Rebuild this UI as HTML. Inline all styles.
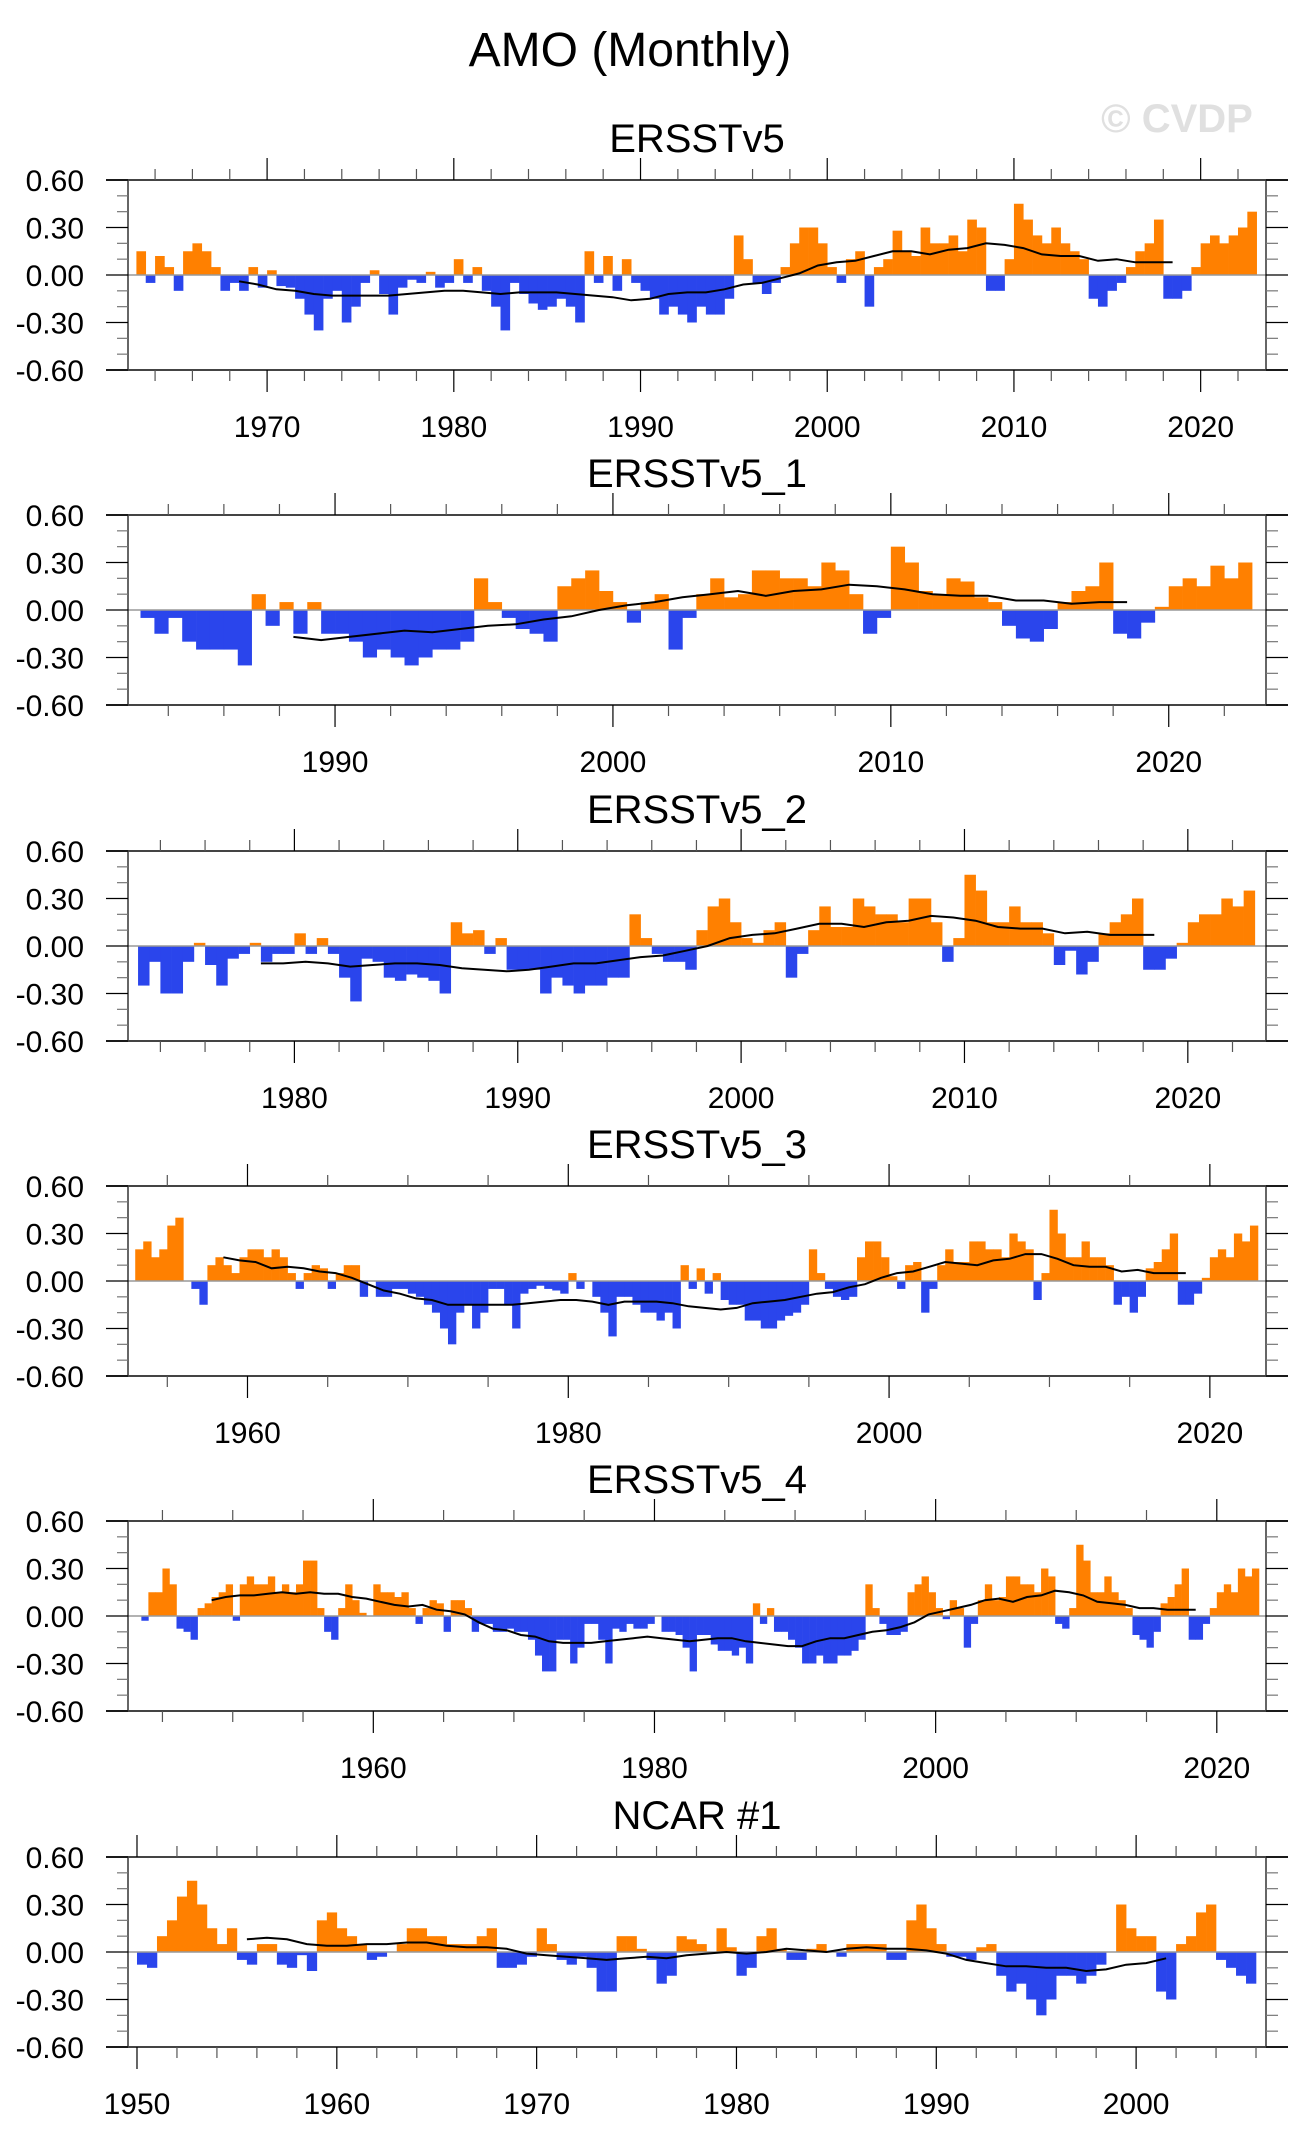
<!DOCTYPE html>
<html><head><meta charset="utf-8">
<style>
html,body{margin:0;padding:0;background:#fff;}
svg{display:block;font-family:"Liberation Sans",Arial,sans-serif;}
</style></head>
<body>
<svg id="fig" width="1305" height="2144" viewBox="0 0 1305 2144" xmlns="http://www.w3.org/2000/svg">
<text x="630" y="66" font-size="48" text-anchor="middle">AMO (Monthly)</text>
<text x="1177" y="132" font-size="40" font-weight="bold" fill="#e0e0e0" text-anchor="middle">© CVDP</text>
</svg>
<script>
// ---- data (half-year anomaly values, two per year) ----
const titles = ["ERSSTv5","ERSSTv5_1","ERSSTv5_2","ERSSTv5_3","ERSSTv5_4","NCAR #1"];
const startYears = [1963,1983,1973,1953,1943,1950];
const endYears = [2023,2023,2023,2023,2023,2006];
const smoothStart = [1968,1988,1978,1958,1948,1955];
const yTicks = [0.6,0.3,0.0,-0.3,-0.6];
const yTickLabels = ["0.60","0.30","0.00","-0.30","-0.60"];

const vals0 = [0.15,-0.05,0.12,0.05,-0.1,0.15,0.2,0.15,0.05,-0.1,-0.05,-0.1,0.05,-0.08,0.03,-0.07,-0.08,-0.15,-0.25,-0.35,-0.15,-0.1,-0.3,-0.2,-0.05,0.03,-0.12,-0.25,-0.08,-0.03,-0.05,0.02,-0.08,-0.05,0.1,-0.05,0.05,-0.1,-0.2,-0.35,-0.05,-0.12,-0.18,-0.22,-0.2,-0.15,-0.2,-0.3,0.15,-0.05,0.12,-0.1,0.1,-0.05,-0.1,-0.15,-0.25,-0.2,-0.25,-0.3,-0.2,-0.25,-0.25,-0.15,0.25,0.1,-0.05,-0.12,-0.05,0.05,0.2,0.3,0.3,0.2,0.05,-0.05,0.1,0.15,-0.2,0.05,0.1,0.28,0.15,0.12,0.3,0.2,0.2,0.25,0.15,0.35,0.3,-0.1,-0.1,0.1,0.45,0.35,0.25,0.2,0.3,0.2,0.15,0.1,-0.15,-0.2,-0.1,-0.05,0.05,0.15,0.2,0.35,-0.15,-0.15,-0.1,0.05,0.2,0.25,0.2,0.25,0.3,0.4];
const vals1 = [-0.05,-0.15,-0.05,-0.2,-0.25,-0.25,-0.25,-0.35,0.1,-0.1,0.05,-0.15,0.05,-0.15,-0.15,-0.2,-0.3,-0.25,-0.3,-0.35,-0.3,-0.25,-0.25,-0.2,0.2,0.05,-0.05,-0.12,-0.15,-0.2,0.15,0.2,0.25,0.12,0.05,-0.08,0.05,0.1,-0.25,-0.05,0.1,0.2,0.08,0.1,0.25,0.25,0.2,0.2,0.15,0.3,0.25,0.1,-0.15,-0.05,0.4,0.3,0.12,0.1,0.2,0.18,0.08,0.05,-0.1,-0.18,-0.2,-0.12,0.05,0.12,0.15,0.3,-0.15,-0.18,-0.08,0.02,0.15,0.2,0.15,0.28,0.2,0.3];
const vals2 = [-0.25,-0.1,-0.3,-0.3,-0.1,0.02,-0.12,-0.25,-0.08,-0.05,0.02,-0.1,-0.05,-0.05,0.08,-0.05,0.05,-0.05,-0.2,-0.35,-0.08,-0.1,-0.2,-0.22,-0.18,-0.2,-0.22,-0.3,0.15,0.08,0.1,-0.05,0.05,-0.15,-0.15,-0.15,-0.3,-0.2,-0.25,-0.3,-0.25,-0.25,-0.2,-0.2,0.2,0.05,-0.05,-0.1,-0.1,-0.15,0.1,0.25,0.3,0.15,0.05,0.02,0.1,0.15,-0.2,-0.05,0.1,0.25,0.12,0.12,0.3,0.25,0.2,0.2,0.15,0.3,0.3,0.15,-0.1,0.05,0.45,0.35,0.15,0.15,0.25,0.15,0.15,0.08,-0.12,-0.03,-0.18,-0.1,0.08,0.15,0.2,0.3,-0.15,-0.15,-0.08,0.02,0.15,0.2,0.2,0.3,0.25,0.35];
const vals3 = [0.2,0.25,0.15,0.2,0.35,0.4,0.0,-0.05,-0.15,0.1,0.15,0.1,0.05,0.15,0.2,0.2,0.15,0.2,0.15,0.05,-0.05,0.05,0.1,0.08,-0.05,0.05,0.1,0.1,-0.1,0.0,-0.1,-0.1,-0.05,-0.05,-0.08,-0.1,-0.15,-0.2,-0.3,-0.4,-0.2,-0.15,-0.3,-0.2,-0.05,-0.05,-0.15,-0.3,-0.08,-0.05,-0.03,-0.05,-0.06,-0.08,0.05,-0.05,0.0,-0.1,-0.2,-0.35,-0.1,-0.1,-0.15,-0.2,-0.2,-0.25,-0.2,-0.3,0.1,-0.05,0.08,-0.08,0.05,-0.12,-0.15,-0.15,-0.25,-0.25,-0.3,-0.3,-0.25,-0.22,-0.2,-0.15,0.2,0.05,-0.05,-0.1,-0.12,-0.1,0.15,0.25,0.25,0.15,0.03,-0.05,0.1,0.12,-0.2,-0.05,0.1,0.2,0.12,0.12,0.25,0.25,0.2,0.2,0.15,0.3,0.25,0.2,-0.12,0.05,0.45,0.3,0.15,0.15,0.25,0.15,0.15,0.1,-0.15,-0.1,-0.2,-0.1,0.08,0.12,0.2,0.3,-0.15,-0.15,-0.08,0.02,0.15,0.2,0.15,0.3,0.25,0.35];
const vals4 = [0.0,-0.03,0.15,0.15,0.3,0.2,-0.08,-0.1,-0.15,0.05,0.08,0.12,0.15,0.2,-0.03,0.2,0.25,0.2,0.2,0.25,0.15,0.2,0.15,0.2,0.35,0.35,0.05,-0.1,-0.15,0.05,0.2,0.1,0.02,0.0,0.2,0.15,0.15,0.12,0.15,0.05,-0.05,0.05,0.1,0.08,-0.1,0.1,0.1,0.05,-0.1,-0.05,-0.05,-0.1,-0.1,-0.08,-0.1,-0.1,-0.15,-0.25,-0.35,-0.35,-0.15,-0.15,-0.3,-0.2,-0.05,-0.05,-0.15,-0.3,-0.08,-0.1,-0.05,-0.08,-0.08,-0.05,0.0,-0.1,-0.1,-0.12,-0.2,-0.35,-0.12,-0.12,-0.18,-0.22,-0.22,-0.25,-0.2,-0.3,0.08,-0.05,0.05,-0.1,-0.1,-0.15,-0.2,-0.3,-0.3,-0.25,-0.3,-0.3,-0.25,-0.25,-0.22,-0.15,0.2,0.05,-0.05,-0.12,-0.12,-0.1,0.15,0.2,0.25,0.15,0.05,-0.02,0.1,0.05,-0.2,-0.05,0.1,0.2,0.1,0.12,0.25,0.25,0.2,0.2,0.15,0.3,0.25,-0.05,-0.08,0.05,0.45,0.35,0.15,0.15,0.25,0.15,0.1,0.05,-0.12,-0.15,-0.2,-0.1,0.08,0.12,0.2,0.3,-0.15,-0.15,-0.05,0.05,0.15,0.2,0.15,0.3,0.25,0.3];
const vals5 = [-0.08,-0.1,0.1,0.2,0.35,0.45,0.3,0.15,0.05,0.15,-0.05,-0.08,0.05,0.05,-0.08,-0.1,-0.02,-0.12,0.2,0.25,0.15,0.1,0.05,-0.05,-0.03,0.0,0.05,0.15,0.15,0.1,0.1,0.05,0.05,0.05,0.1,0.15,-0.1,-0.1,-0.08,-0.03,0.15,0.05,-0.05,-0.08,-0.03,-0.1,-0.25,-0.25,0.1,0.1,0.02,-0.05,-0.2,-0.15,0.1,0.08,0.05,0.0,0.15,0.03,-0.15,-0.1,0.1,0.15,0.02,-0.05,-0.05,0.02,0.05,0.0,-0.03,0.05,0.05,0.05,0.05,-0.05,-0.05,0.2,0.3,0.15,0.05,-0.03,-0.03,-0.05,0.03,0.05,-0.15,-0.25,-0.2,-0.3,-0.4,-0.3,-0.15,-0.15,-0.2,-0.15,-0.08,0.0,0.3,0.15,0.1,0.1,-0.25,-0.3,0.05,0.1,0.25,0.3,-0.05,-0.1,-0.15,-0.2];
const allVals = [vals0,vals1,vals2,vals3,vals4,vals5];

// ---- data (running-mean line, one value per year) ----
const smooth0 = [-0.04,-0.06,-0.09,-0.1,-0.12,-0.13,-0.13,-0.13,-0.13,-0.12,-0.11,-0.1,-0.1,-0.11,-0.12,-0.11,-0.11,-0.11,-0.12,-0.13,-0.14,-0.16,-0.15,-0.12,-0.11,-0.11,-0.09,-0.06,-0.05,-0.02,0.01,0.06,0.08,0.09,0.12,0.15,0.15,0.13,0.16,0.17,0.2,0.19,0.17,0.13,0.12,0.12,0.09,0.1,0.08,0.08,0.08];
const smooth1 = [-0.17,-0.19,-0.17,-0.15,-0.13,-0.14,-0.12,-0.1,-0.09,-0.06,-0.04,0.0,0.03,0.05,0.08,0.1,0.12,0.09,0.12,0.13,0.16,0.15,0.13,0.1,0.09,0.09,0.06,0.06,0.04,0.05,0.05];
const smooth2 = [-0.11,-0.11,-0.1,-0.11,-0.13,-0.12,-0.11,-0.11,-0.12,-0.14,-0.15,-0.16,-0.15,-0.13,-0.11,-0.11,-0.09,-0.07,-0.06,-0.03,0.0,0.05,0.07,0.08,0.11,0.14,0.14,0.12,0.15,0.16,0.19,0.18,0.16,0.12,0.11,0.11,0.08,0.09,0.07,0.07,0.07];
const smooth3 = [0.15,0.13,0.12,0.08,0.09,0.08,0.06,0.05,0.02,-0.02,-0.06,-0.08,-0.11,-0.12,-0.15,-0.15,-0.15,-0.15,-0.15,-0.14,-0.13,-0.12,-0.12,-0.13,-0.15,-0.13,-0.13,-0.13,-0.14,-0.16,-0.17,-0.18,-0.17,-0.14,-0.13,-0.12,-0.1,-0.08,-0.07,-0.04,-0.02,0.02,0.05,0.06,0.09,0.12,0.11,0.1,0.13,0.14,0.17,0.17,0.14,0.1,0.09,0.09,0.06,0.07,0.05,0.05,0.05];
const smooth4 = [0.1,0.12,0.13,0.13,0.14,0.15,0.14,0.15,0.14,0.14,0.12,0.11,0.09,0.07,0.06,0.07,0.04,0.03,0.01,-0.04,-0.08,-0.09,-0.12,-0.13,-0.16,-0.17,-0.17,-0.17,-0.16,-0.15,-0.14,-0.13,-0.14,-0.15,-0.16,-0.15,-0.14,-0.14,-0.16,-0.17,-0.18,-0.19,-0.19,-0.16,-0.14,-0.14,-0.12,-0.1,-0.09,-0.07,-0.04,0.01,0.03,0.05,0.07,0.1,0.11,0.09,0.12,0.13,0.16,0.15,0.13,0.09,0.08,0.07,0.05,0.05,0.04,0.04,0.04];
const smooth5 = [0.08,0.09,0.08,0.05,0.04,0.04,0.05,0.05,0.06,0.06,0.04,0.03,0.03,0.02,-0.01,-0.02,-0.03,-0.04,-0.05,-0.04,-0.03,-0.04,-0.02,-0.01,0.0,-0.01,0.0,0.02,0.01,0.0,0.02,0.03,0.02,0.02,0.01,-0.01,-0.05,-0.07,-0.09,-0.09,-0.1,-0.1,-0.12,-0.11,-0.08,-0.07,-0.04];
const allSmooth = [smooth0,smooth1,smooth2,smooth3,smooth4,smooth5];

// ---- layout ----
const NS = "http://www.w3.org/2000/svg";
const svg = document.getElementById("fig");
const panelTops = [180,515,851,1186,1521,1857];
const PL = 128, PR = 1266, PH = 190;
const minorStep = [2,2,2,5,5,2];
const majorStep = [10,10,10,20,20,10];

function mk(tag, attrs, parent) {
  const e = document.createElementNS(NS, tag);
  for (const k in attrs) e.setAttribute(k, attrs[k]);
  (parent || svg).appendChild(e);
  return e;
}

titles.forEach((title, p) => {
  const top = panelTops[p];
  const xmin = startYears[p] - 0.45, xmax = endYears[p] + 0.5;
  const xs = y => PL + (y - xmin) / (xmax - xmin) * (PR - PL);
  const ys = v => top + PH / 2 - v / 0.6 * (PH / 2);
  const g = mk("g", {});
  
  

  const t = mk("text", {x: 697, y: top - 28, "font-size": 40, "text-anchor": "middle"}, g);
  t.textContent = title;
  
  

  const bars = mk("g", {}, g);
  
  
  const vals = allVals[p];
  vals.forEach((v, i) => {
    const y0 = startYears[p] + i * 0.5;
    const x0 = xs(y0), x1 = xs(y0 + 0.5);
    const yv = ys(v), yz = ys(0);
    const r = mk("rect", {x: x0.toFixed(2), y: Math.min(yv, yz).toFixed(2), width: (x1 - x0 + 0.3).toFixed(2), height: Math.abs(yv - yz).toFixed(2), fill: v >= 0 ? "#ff8000" : "#2a45ec"}, bars);
    
    
  });

  const zl = mk("line", {x1: PL, x2: PR, y1: ys(0), y2: ys(0), stroke: "#999", "stroke-width": 1.5}, g);
  
  

  const sm = allSmooth[p];
  const pts = sm.map((v, i) => xs(smoothStart[p] + i + 0.5).toFixed(1) + "," + ys(v).toFixed(1)).join(" ");
  const pl = mk("polyline", {points: pts, fill: "none", stroke: "#000", "stroke-width": 2}, g);
  
  

  const fr = mk("g", {stroke: "#000", "stroke-width": 1.2}, g);
  
  
  mk("line", {x1: PL, x2: PL, y1: top, y2: top + PH}, fr);
  mk("line", {x1: PR, x2: PR, y1: top, y2: top + PH}, fr);
  mk("line", {x1: 106, x2: 1288, y1: top, y2: top, stroke: "#444", "stroke-width": 2}, fr);
  mk("line", {x1: 106, x2: 1288, y1: top + PH, y2: top + PH, stroke: "#444", "stroke-width": 2}, fr);

  const yax = mk("g", {}, g);
  
  
  for (let k = -6; k <= 6; k++) {
    const yy = ys(k / 10);
    const major = (k % 3 === 0);
    mk("line", {x1: major ? 106 : 117, x2: PL, y1: yy, y2: yy, stroke: major ? "#000" : "#777", "stroke-width": 1.2}, yax);
    mk("line", {x1: PR, x2: major ? 1288 : 1278, y1: yy, y2: yy, stroke: major ? "#000" : "#777", "stroke-width": 1.2}, yax);
  }
  yTicks.forEach((v, i) => {
    const tl = mk("text", {x: 84, y: ys(v) + 11, "font-size": 30, "text-anchor": "end"}, yax);
    tl.textContent = yTickLabels[i];
    
    
  });

  const xax = mk("g", {}, g);
  
  
  const step = minorStep[p];
  for (let yr = Math.ceil(xmin / step) * step; yr <= xmax; yr += step) {
    const xx = xs(yr);
    const major = yr % majorStep[p] === 0;
    const len = major ? 22 : 11;
    mk("line", {x1: xx, x2: xx, y1: top - len, y2: top, stroke: major ? "#000" : "#555", "stroke-width": 1.2}, xax);
    mk("line", {x1: xx, x2: xx, y1: top + PH, y2: top + PH + len, stroke: major ? "#000" : "#555", "stroke-width": 1.2}, xax);
    if (major) {
      const xl = mk("text", {x: xx, y: top + 257, "font-size": 30, "text-anchor": "middle"}, xax);
      xl.textContent = String(yr);
      
      
    }
  }
});
</script>
</body></html>
